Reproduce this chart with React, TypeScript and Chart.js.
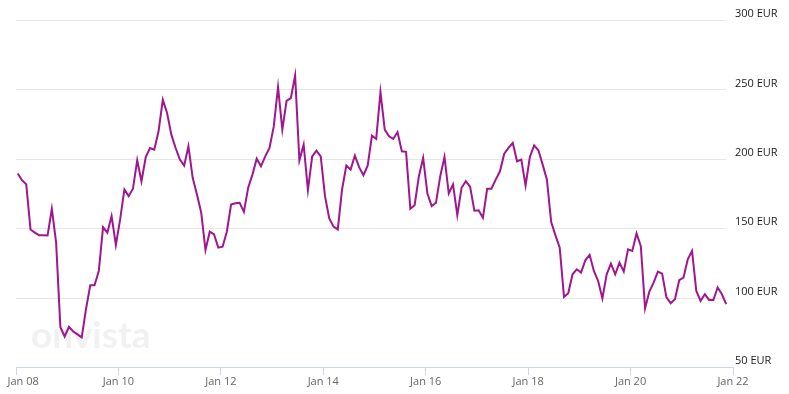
import React, { useEffect, useRef } from "react";
import { Chart, registerables } from "chart.js";

Chart.register(...registerables);

// Monthly closing values, starting January 2008
const startYear = 2008;
const prices: number[] = [
  189.4, 184.6, 181.7, 149.1, 146.8, 145.0, 144.9, 144.8, 164.0, 139.6, 78.7, 72.0,
  79.0, 75.6, 73.5, 71.3, 91.7, 108.9, 108.9, 119.2, 150.8, 146.8, 158.7, 137.9,
  156.3, 177.9, 173.1, 178.4, 198.9, 183.8, 201.3, 207.8, 206.6, 219.8, 242.5, 233.0,
  217.4, 207.8, 199.4, 195.1, 209.0, 186.3, 174.3, 161.1, 134.3, 147.5, 145.5, 136.0,
  136.7, 147.5, 167.1, 168.0, 168.3, 161.8, 179.1, 188.6, 200.1, 194.6, 201.8, 207.8,
  223.3, 251.6, 221.0, 241.8, 243.7, 260.0, 198.9, 210.2, 177.4, 201.8, 205.9, 201.8,
  173.1, 157.0, 151.1, 149.1, 177.9, 195.1, 192.2, 202.3, 194.0, 188.2, 195.1, 216.7,
  214.3, 248.0, 221.0, 216.2, 214.3, 219.3, 205.4, 205.0, 164.0, 166.6, 187.4, 200.6,
  175.0, 165.9, 168.3, 187.4, 201.3, 175.0, 181.5, 159.4, 179.1, 183.8, 179.9, 162.6,
  162.9, 157.5, 178.4, 178.4, 185.0, 191.0, 203.7, 207.8, 211.4, 198.2, 199.4, 180.7,
  201.3, 209.7, 206.1, 195.8, 185.0, 154.4, 144.8, 136.0, 100.5, 103.2, 116.8, 120.4,
  118.0, 126.9, 130.8, 119.2, 112.0, 99.4, 116.8, 124.5, 116.8, 125.2, 118.7, 134.8,
  133.6, 146.3, 137.1, 92.2, 104.4, 110.8, 118.7, 117.3, 100.1, 96.0, 98.9, 112.5,
  114.4, 127.6, 133.6, 104.8, 97.6, 102.4, 98.3, 98.3, 107.3, 102.4, 95.3,
];

const xTickYears: number[] = [2008, 2010, 2012, 2014, 2016, 2018, 2020, 2022];
const yTickValues: number[] = [50, 100, 150, 200, 250, 300];
const currency = "EUR";
const watermark = "onvista";

const LINE_COLOR = "#a0168f";

export default function App() {
  const canvasRef = useRef<HTMLCanvasElement | null>(null);

  useEffect(() => {
    if (!canvasRef.current) return;
    const points = prices.map((v, i) => ({ x: startYear + (i + 0.4) / 12, y: v }));
    const lastX = points[points.length - 1].x;

    const bgPlugin = {
      id: "bgGridAndWatermark",
      beforeDatasetsDraw(chart: any) {
        const { ctx, chartArea, scales } = chart;
        const xs = scales.x;
        const ys = scales.y;
        ctx.save();
        // watermark
        ctx.font = "bold 37px Lato";
        ctx.fillStyle = "#f1f1f1";
        ctx.textBaseline = "alphabetic";
        ctx.textAlign = "left";
        ctx.fillText(watermark, chartArea.left + 15, chartArea.bottom - 19);
        // horizontal grid lines
        ctx.strokeStyle = "#e6e6e6";
        ctx.lineWidth = 1;
        const right = xs.getPixelForValue(lastX);
        yTickValues.forEach((v) => {
          if (v === yTickValues[0]) return;
          const y = Math.round(ys.getPixelForValue(v)) + 0.5;
          ctx.beginPath();
          ctx.moveTo(chartArea.left, y);
          ctx.lineTo(right, y);
          ctx.stroke();
        });
        ctx.restore();
      },
    };

    const chart = new Chart(canvasRef.current, {
      type: "line",
      data: {
        datasets: [
          {
            data: points,
            borderColor: LINE_COLOR,
            borderWidth: 2,
            pointRadius: 0,
            tension: 0,
            fill: false,
          },
        ],
      },
      options: {
        animation: false,
        responsive: true,
        maintainAspectRatio: false,
        layout: { padding: { top: 20, left: 16, right: 0, bottom: 0 } },
        plugins: {
          legend: { display: false },
          tooltip: { enabled: false },
        },
        scales: {
          x: {
            type: "linear",
            min: xTickYears[0],
            max: xTickYears[xTickYears.length - 1],
            afterBuildTicks: (scale: any) => {
              scale.ticks = xTickYears.map((v) => ({ value: v }));
            },
            afterFit: (scale: any) => {
              scale.height = 27;
              scale.paddingLeft = 0;
              scale.paddingRight = 0;
            },
            border: { display: true, color: "#ccd6eb", width: 1 },
            grid: {
              display: true,
              drawOnChartArea: false,
              drawTicks: true,
              tickLength: 8,
              color: "#ccd6eb",
            },
            ticks: {
              autoSkip: false,
              maxRotation: 0,
              minRotation: 0,
              padding: 0,
              color: "#666666",
              font: { family: "'Open Sans'", size: 11 },
              callback: (v: any, i: number) => {
                const lbl = "Jan " + String(v).slice(2);
                return i === 0 ? "     " + lbl : lbl;
              },
            },
          },
          y: {
            type: "linear",
            position: "right",
            min: yTickValues[0],
            max: yTickValues[yTickValues.length - 1],
            afterBuildTicks: (scale: any) => {
              scale.ticks = yTickValues.map((v) => ({ value: v }));
            },
            afterFit: (scale: any) => {
              scale.width = 56;
            },
            border: { display: false },
            grid: { display: false, drawTicks: false },
            ticks: {
              padding: 2,
              labelOffset: -6,
              color: "#222222",
              font: { family: "'Open Sans'", size: 11 },
              callback: (v: any) => v + " " + currency,
            },
          },
        },
      },
      plugins: [bgPlugin],
    });
    return () => chart.destroy();
  }, []);

  return (
    <div style={{ position: "fixed", left: 0, top: 0, width: 789, height: 394, background: "#ffffff" }}>
      <canvas ref={canvasRef} />
    </div>
  );
}
